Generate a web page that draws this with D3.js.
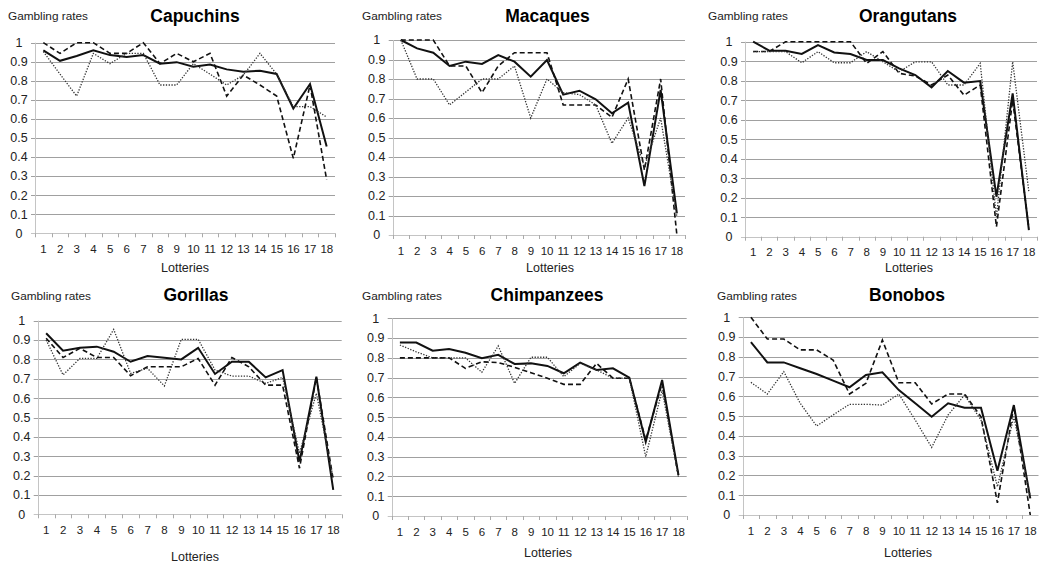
<!DOCTYPE html>
<html>
<head>
<meta charset="utf-8">
<script src="https://cdn.jsdelivr.net/npm/d3@7"></script>
<style>
  body { margin: 0; background: #fff; }
  svg { display: block; font-family: "Liberation Sans", Arial, sans-serif; }
</style>
</head>
<body>
<div id="chart"></div>
<script>
var svgWidth = 1039;
var svgHeight = 568;

// lottery numbers on the x axis and gambling-rate ticks on the y axis
var lotteries = [1, 2, 3, 4, 5, 6, 7, 8, 9, 10, 11, 12, 13, 14, 15, 16, 17, 18];
var rateTicks = [0, 0.1, 0.2, 0.3, 0.4, 0.5, 0.6, 0.7, 0.8, 0.9, 1];
var rateLabels = ["0", "0.1", "0.2", "0.3", "0.4", "0.5", "0.6", "0.7", "0.8", "0.9", "1"];

// values: solid, dashed and dotted series
var capuchinsSolid  = [0.96, 0.905, 0.93, 0.96, 0.935, 0.925, 0.935, 0.89, 0.898, 0.874, 0.886, 0.86, 0.848, 0.853, 0.836, 0.655, 0.783, 0.455];
var capuchinsDashed = [1.0, 0.944, 1.0, 1.0, 0.944, 0.944, 1.0, 0.89, 0.944, 0.9, 0.944, 0.72, 0.83, 0.778, 0.72, 0.393, 0.778, 0.28];
var capuchinsDotted = [0.953, 0.835, 0.72, 0.944, 0.89, 0.944, 0.944, 0.778, 0.778, 0.89, 0.835, 0.778, 0.83, 0.944, 0.835, 0.665, 0.665, 0.61];

var macaquesSolid  = [1.0, 0.957, 0.935, 0.867, 0.889, 0.877, 0.923, 0.889, 0.812, 0.897, 0.72, 0.74, 0.696, 0.624, 0.679, 0.251, 0.744, 0.111];
var macaquesDashed = [1.0, 1.0, 1.0, 0.867, 0.867, 0.73, 0.867, 0.935, 0.935, 0.935, 0.667, 0.667, 0.667, 0.603, 0.8, 0.333, 0.8, 0.0];
var macaquesDotted = [1.0, 0.8, 0.8, 0.667, 0.733, 0.8, 0.8, 0.867, 0.6, 0.8, 0.73, 0.72, 0.667, 0.47, 0.6, 0.35, 0.6, 0.094];

var orangutansSolid  = [1.0, 0.954, 0.954, 0.937, 0.983, 0.945, 0.937, 0.906, 0.906, 0.863, 0.829, 0.766, 0.85, 0.79, 0.798, 0.205, 0.735, 0.034];
var orangutansDashed = [0.95, 0.95, 1.0, 1.0, 1.0, 1.0, 1.0, 0.889, 0.949, 0.838, 0.824, 0.778, 0.829, 0.726, 0.778, 0.051, 0.7, 0.043];
var orangutansDotted = [0.949, 0.949, 0.949, 0.892, 0.949, 0.892, 0.892, 0.949, 0.897, 0.846, 0.897, 0.897, 0.778, 0.778, 0.889, 0.103, 0.897, 0.23];

var gorillasSolid  = [0.935, 0.845, 0.86, 0.866, 0.84, 0.788, 0.818, 0.809, 0.8, 0.86, 0.725, 0.788, 0.788, 0.707, 0.745, 0.272, 0.711, 0.126];
var gorillasDashed = [0.909, 0.81, 0.857, 0.81, 0.81, 0.716, 0.762, 0.762, 0.762, 0.805, 0.667, 0.81, 0.762, 0.667, 0.667, 0.238, 0.707, 0.177];
var gorillasDotted = [0.9, 0.72, 0.805, 0.805, 0.955, 0.728, 0.754, 0.663, 0.904, 0.904, 0.745, 0.714, 0.714, 0.676, 0.707, 0.315, 0.625, 0.186];

var chimpanzeesSolid  = [0.877, 0.877, 0.836, 0.845, 0.826, 0.798, 0.815, 0.769, 0.772, 0.759, 0.722, 0.776, 0.739, 0.747, 0.7, 0.376, 0.688, 0.207];
var chimpanzeesDashed = [0.8, 0.8, 0.8, 0.8, 0.747, 0.78, 0.776, 0.752, 0.725, 0.697, 0.666, 0.666, 0.772, 0.697, 0.697, 0.384, 0.671, 0.2];
var chimpanzeesDotted = [0.865, 0.83, 0.8, 0.8, 0.8, 0.727, 0.86, 0.671, 0.803, 0.803, 0.705, 0.772, 0.739, 0.697, 0.697, 0.3, 0.637, 0.196];

var bonobosSolid  = [0.874, 0.772, 0.772, 0.742, 0.713, 0.68, 0.646, 0.708, 0.722, 0.632, 0.565, 0.497, 0.565, 0.543, 0.543, 0.224, 0.556, 0.084];
var bonobosDashed = [1.0, 0.89, 0.89, 0.835, 0.835, 0.784, 0.612, 0.666, 0.885, 0.669, 0.669, 0.562, 0.612, 0.612, 0.497, 0.062, 0.551, 0.0];
var bonobosDotted = [0.671, 0.612, 0.725, 0.565, 0.45, 0.506, 0.56, 0.56, 0.556, 0.612, 0.48, 0.342, 0.506, 0.607, 0.48, 0.143, 0.497, 0.093];

// panel placement (pixels) -- left/right of plot, y of 1 and y of 0
var panels = [
  { name: "Capuchins",   series: [capuchinsSolid, capuchinsDashed, capuchinsDotted],
    left: 35, right: 335, top: 42.7, bottom: 233.3, titleX: 195, row: 0, yLabX: 8, lotX: 185 },
  { name: "Macaques",    series: [macaquesSolid, macaquesDashed, macaquesDotted],
    left: 392.7, right: 685, top: 40, bottom: 235, titleX: 547.5, row: 0, yLabX: 362, lotX: 550 },
  { name: "Orangutans",  series: [orangutansSolid, orangutansDashed, orangutansDotted],
    left: 745, right: 1037, top: 41.7, bottom: 236.7, titleX: 908, row: 0, yLabX: 708, lotX: 909 },
  { name: "Gorillas",    series: [gorillasSolid, gorillasDashed, gorillasDotted],
    left: 37.7, right: 341.7, top: 320.7, bottom: 514.3, titleX: 196, row: 1, yLabX: 11, lotX: 195, lotY: 561 },
  { name: "Chimpanzees", series: [chimpanzeesSolid, chimpanzeesDashed, chimpanzeesDotted],
    left: 391.7, right: 686.7, top: 318.3, bottom: 516, titleX: 547, row: 1, yLabX: 362, lotX: 548, lotY: 557 },
  { name: "Bonobos",     series: [bonobosSolid, bonobosDashed, bonobosDotted],
    left: 742.7, right: 1038.5, top: 317.3, bottom: 515, titleX: 907, row: 1, yLabX: 717, lotX: 908, lotY: 557 }
];

var lineStyles = [
  { stroke: "#111", width: 2, dash: null },
  { stroke: "#111", width: 1.6, dash: "5,3" },
  { stroke: "#333", width: 1.3, dash: "1.3,1.5" }
];

var svg = d3.select("#chart")
  .append("svg")
  .attr("width", svgWidth)
  .attr("height", svgHeight);

panels.forEach(function(p) {
  var g = svg.append("g");
  var headY = p.row === 0 ? 20 : 300;

  var xScale = d3.scaleBand()
    .domain(lotteries)
    .range([p.left, p.right])
    .padding(0);

  var yScale = d3.scaleLinear()
    .domain([0, 1])
    .range([p.bottom, p.top]);

  // gridlines
  g.selectAll(".grid")
    .data(rateTicks.filter(d => d > 0))
    .enter()
    .append("line")
    .attr("x1", p.left - 4)
    .attr("x2", p.right)
    .attr("y1", d => Math.round(yScale(d)) + 0.5)
    .attr("y2", d => Math.round(yScale(d)) + 0.5)
    .attr("stroke", "#a0a0a0")
    .attr("stroke-width", 1);

  // y axis line
  g.append("line")
    .attr("x1", Math.round(p.left) + 0.5)
    .attr("x2", Math.round(p.left) + 0.5)
    .attr("y1", p.top)
    .attr("y2", p.bottom)
    .attr("stroke", "#c4c4c4");

  // x axis line with ticks at band edges
  g.append("line")
    .attr("x1", p.left - 4)
    .attr("x2", p.right)
    .attr("y1", Math.round(p.bottom) + 0.5)
    .attr("y2", Math.round(p.bottom) + 0.5)
    .attr("stroke", "#c4c4c4");

  g.selectAll(".xtick")
    .data(lotteries.concat([19]))
    .enter()
    .append("line")
    .attr("x1", d => Math.round(d <= 18 ? xScale(d) : p.right) + 0.5)
    .attr("x2", d => Math.round(d <= 18 ? xScale(d) : p.right) + 0.5)
    .attr("y1", p.bottom)
    .attr("y2", p.bottom + 4)
    .attr("stroke", "#aaa");

  // y tick labels
  g.selectAll(".ylab")
    .data(rateTicks)
    .enter()
    .append("text")
    .attr("x", p.left - 16)
    .attr("y", d => yScale(d))
    .attr("dy", "0.35em")
    .attr("text-anchor", "middle")
    .attr("font-size", 12.5)
    .attr("fill", "#222")
    .text((d, i) => rateLabels[i]);

  // x tick labels
  g.selectAll(".xlab")
    .data(lotteries)
    .enter()
    .append("text")
    .attr("x", d => xScale(d) + xScale.bandwidth() / 2)
    .attr("y", p.bottom + 19.5)
    .attr("text-anchor", "middle")
    .attr("font-size", 11.5)
    .attr("letter-spacing", -0.3)
    .attr("fill", "#222")
    .text(d => d);

  // series lines
  var line = d3.line()
    .x((d, i) => xScale(lotteries[i]) + xScale.bandwidth() / 2)
    .y(d => yScale(d));

  p.series.forEach(function(values, k) {
    var st = lineStyles[k];
    g.append("path")
      .datum(values)
      .attr("d", line)
      .attr("fill", "none")
      .attr("stroke", st.stroke)
      .attr("stroke-width", st.width)
      .attr("stroke-linejoin", "miter")
      .attr("stroke-dasharray", st.dash);
  });

  // labels
  g.append("text")
    .attr("x", p.yLabX)
    .attr("y", headY)
    .attr("font-size", 11.8)
    .attr("fill", "#222")
    .text("Gambling rates");

  g.append("text")
    .attr("x", p.titleX)
    .attr("y", p.row === 0 ? 21.5 : 300.5)
    .attr("text-anchor", "middle")
    .attr("font-size", 17.5)
    .attr("font-weight", "bold")
    .attr("fill", "#000")
    .text(p.name);

  g.append("text")
    .attr("x", p.lotX)
    .attr("y", p.lotY || 272)
    .attr("text-anchor", "middle")
    .attr("font-size", 12.5)
    .attr("fill", "#222")
    .text("Lotteries");
});
</script>
</body>
</html>
